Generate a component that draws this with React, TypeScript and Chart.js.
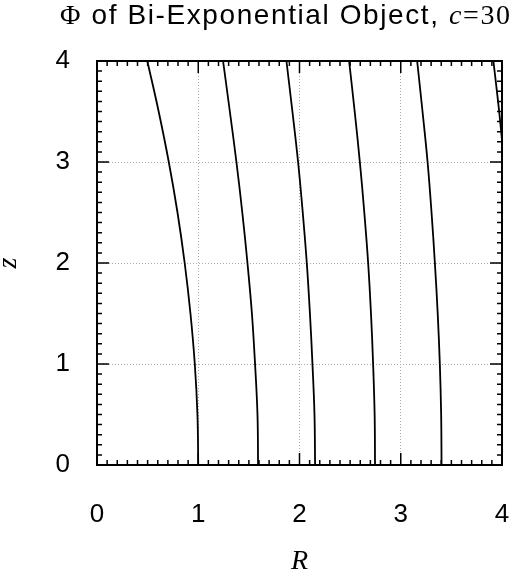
import React, { useEffect, useRef } from 'react';
import { Chart, registerables } from 'chart.js';

Chart.register(...registerables);

// heights where each contour was sampled
const Z_SAMPLES = [0, 0.5, 1, 1.5, 2, 2.5, 3, 3.5, 4];
// R position of each contour at the heights above
const CONTOUR_1 = [1.0, 0.992, 0.966, 0.923, 0.866, 0.795, 0.709, 0.609, 0.497];
const CONTOUR_2 = [1.591, 1.585, 1.561, 1.53, 1.486, 1.435, 1.377, 1.312, 1.245];
const CONTOUR_3 = [2.154, 2.148, 2.128, 2.103, 2.072, 2.032, 1.986, 1.93, 1.871];
const CONTOUR_4 = [2.746, 2.742, 2.727, 2.706, 2.678, 2.64, 2.596, 2.545, 2.49];
const CONTOUR_5 = [3.403, 3.399, 3.386, 3.365, 3.337, 3.304, 3.265, 3.215, 3.162];
// last contour only enters the box near the top right corner
const Z_EDGE = [3, 3.5, 4];
const CONTOUR_6 = [4.02, 3.972, 3.915];

const R_TICKS = [0, 1, 2, 3, 4];
const Z_TICKS = [0, 1, 2, 3, 4];

const SANS = '"Liberation Sans", Arial, Helvetica, sans-serif';
const SERIF = '"Liberation Serif", "Times New Roman", serif';

function toPoints(rs: number[], zs: number[]) {
  return rs.map((r, i) => ({ x: r, y: zs[i] }));
}

// frame with inward major/minor ticks on all four sides
const framePlugin = {
  id: 'frame',
  afterDatasetsDraw(chart: any) {
    const { ctx, chartArea: a, scales } = chart;
    const x = scales.x;
    const y = scales.y;
    ctx.save();
    ctx.strokeStyle = '#000';
    ctx.lineWidth = 1.5;
    ctx.beginPath();
    for (let i = 0; i <= 40; i++) {
      const v = i / 10;
      const len = i % 10 === 0 ? 12 : 5;
      const px = x.getPixelForValue(v);
      ctx.moveTo(px, a.bottom);
      ctx.lineTo(px, a.bottom - len);
      ctx.moveTo(px, a.top);
      ctx.lineTo(px, a.top + len);
      const py = y.getPixelForValue(v);
      ctx.moveTo(a.left, py);
      ctx.lineTo(a.left + len, py);
      ctx.moveTo(a.right, py);
      ctx.lineTo(a.right - len, py);
    }
    ctx.stroke();
    ctx.lineWidth = 2;
    ctx.strokeRect(a.left, a.top, a.right - a.left, a.bottom - a.top);
    ctx.restore();
  },
};

export default function App() {
  const canvasRef = useRef<HTMLCanvasElement>(null);
  const chartRef = useRef<Chart | null>(null);

  useEffect(() => {
    document.body.style.margin = '0';
    if (!canvasRef.current) return;
    const ctx = canvasRef.current.getContext('2d');
    if (!ctx) return;

    const line = (data: { x: number; y: number }[]) => ({
      data,
      showLine: true,
      borderColor: '#000',
      borderWidth: 1.8,
      pointRadius: 0,
      tension: 0.4,
      fill: false,
    });

    chartRef.current = new Chart(ctx, {
      type: 'scatter',
      data: {
        datasets: [
          line(toPoints(CONTOUR_1, Z_SAMPLES)),
          line(toPoints(CONTOUR_2, Z_SAMPLES)),
          line(toPoints(CONTOUR_3, Z_SAMPLES)),
          line(toPoints(CONTOUR_4, Z_SAMPLES)),
          line(toPoints(CONTOUR_5, Z_SAMPLES)),
          line(toPoints(CONTOUR_6, Z_EDGE)),
        ],
      },
      options: {
        responsive: false,
        animation: false,
        layout: { padding: { top: 61, right: 18, left: 0, bottom: 0 } },
        plugins: {
          legend: { display: false },
          tooltip: { enabled: false },
          title: { display: false },
        },
        scales: {
          x: {
            type: 'linear',
            min: 0,
            max: 4,
            afterBuildTicks: (s: any) => {
              s.ticks = R_TICKS.map((v) => ({ value: v }));
            },
            afterFit: (s: any) => {
              s.height = 105;
              // tick padding is only meant to push labels down, not inward
              s.paddingLeft = 0;
              s.paddingRight = 0;
            },
            ticks: {
              color: '#000',
              font: { family: SANS, size: 26 },
              padding: 34,
              maxRotation: 0,
              autoSkip: false,
            },
            grid: { color: '#aaaaaa', lineWidth: 1, drawTicks: false, tickLength: 0 },
            border: { display: false, dash: [1, 2] },
            title: {
              display: true,
              text: 'R',
              color: '#000',
              font: { family: SERIF, style: 'italic', size: 28, lineHeight: 0.6 },
              padding: 0,
            },
          },
          y: {
            type: 'linear',
            min: 0,
            max: 4,
            afterBuildTicks: (s: any) => {
              s.ticks = Z_TICKS.map((v) => ({ value: v }));
            },
            afterFit: (s: any) => {
              s.width = 97;
            },
            ticks: {
              color: '#000',
              font: { family: SANS, size: 26 },
              padding: 27,
              autoSkip: false,
            },
            grid: { color: '#aaaaaa', lineWidth: 1, drawTicks: false, tickLength: 0 },
            border: { display: false, dash: [1, 2] },
            title: {
              display: true,
              text: 'z',
              color: '#000',
              font: { family: SERIF, style: 'italic', size: 28, lineHeight: 0.6 },
              padding: 0,
            },
          },
        },
      },
      plugins: [framePlugin],
    } as any);

    return () => {
      if (chartRef.current) {
        chartRef.current.destroy();
        chartRef.current = null;
      }
    };
  }, []);

  return (
    <div style={{ position: 'relative', width: 520, height: 570 }}>
      <canvas ref={canvasRef} width={520} height={570} />
      <div
        style={{
          position: 'absolute',
          left: 60,
          top: 0,
          whiteSpace: 'nowrap',
          fontFamily: SANS,
          fontSize: 28,
          letterSpacing: '1.6px',
          lineHeight: '30px',
          color: '#000',
        }}
      >
        <span style={{ fontFamily: SERIF }}>Φ</span> of Bi-Exponential Object,{' '}
        <span style={{ fontFamily: SERIF, fontStyle: 'italic' }}>c</span>
        <span style={{ fontFamily: SERIF }}>=30</span>
      </div>
    </div>
  );
}
